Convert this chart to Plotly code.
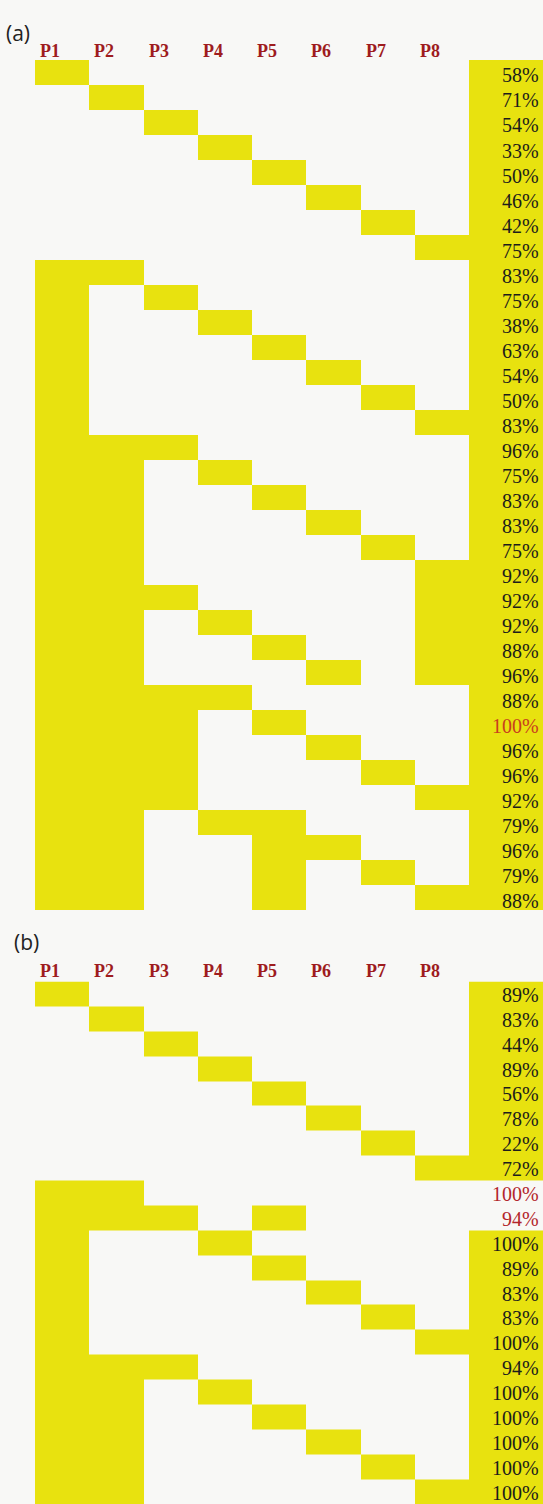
import plotly.graph_objects as go

# ---- data -------------------------------------------------------------
columns = ["P1", "P2", "P3", "P4", "P5", "P6", "P7", "P8"]

# panel (a): members of each combination, whether the summary strip is filled,
# the reported percentage and which percentages are highlighted
a_sets = [
    [1], [2], [3], [4], [5], [6], [7], [8],
    [1, 2], [1, 3], [1, 4], [1, 5], [1, 6], [1, 7], [1, 8],
    [1, 2, 3], [1, 2, 4], [1, 2, 5], [1, 2, 6], [1, 2, 7], [1, 2, 8],
    [1, 2, 3, 8], [1, 2, 4, 8], [1, 2, 5, 8], [1, 2, 6, 8],
    [1, 2, 3, 4], [1, 2, 3, 5], [1, 2, 3, 6], [1, 2, 3, 7], [1, 2, 3, 8],
    [1, 2, 4, 5], [1, 2, 5, 6], [1, 2, 5, 7], [1, 2, 5, 8],
]
a_strip = [1] * 34
a_pct = [58, 71, 54, 33, 50, 46, 42, 75,
         83, 75, 38, 63, 54, 50, 83,
         96, 75, 83, 83, 75, 92,
         92, 92, 88, 96,
         88, 100, 96, 96, 92,
         79, 96, 79, 88]
a_red = [26]

# panel (b)
b_sets = [
    [1], [2], [3], [4], [5], [6], [7], [8],
    [1, 2], [1, 2, 3, 5], [1, 4], [1, 5], [1, 6], [1, 7], [1, 8],
    [1, 2, 3], [1, 2, 4], [1, 2, 5], [1, 2, 6], [1, 2, 7], [1, 2, 8],
]
b_strip = [1] * 8 + [0, 0] + [1] * 11
b_pct = [89, 83, 44, 89, 56, 78, 22, 72,
         100, 94, 100, 89, 83, 83, 100,
         94, 100, 100, 100, 100, 100]
b_red = [8, 9]

# ---- styling ----------------------------------------------------------
W, H = 543, 1504
BG = "#f8f8f6"
YELLOW = "#e8e20f"
DARK_RED = "#9e1c1e"
TEXT = "#1c1c1c"
SERIF = "Liberation Serif, Times New Roman, serif"
COL_W = 54.25          # px per P column
LEFT = 35              # px left of the first column
STRIP_W = 74 / COL_W   # summary strip width in column units

x_edges = list(range(len(columns) + 1)) + [len(columns) + STRIP_W]
x_range = [-LEFT / COL_W, len(columns) + STRIP_W]


def matrix(sets, strip):
    z = []
    for members, s in zip(sets, strip):
        row = [1 if (i + 1) in members else 0 for i in range(len(columns))]
        z.append(row + [s])
    return z


def paper_y(px):
    return 1 - px / H


panels = [
    dict(name="(a)", sets=a_sets, strip=a_strip, pct=a_pct, red=a_red,
         top=60, bottom=910, label_y=33, label_x=4, head_y=51, shift=-3,
         red_col="#c8401e"),
    dict(name="(b)", sets=b_sets, strip=b_strip, pct=b_pct, red=b_red,
         top=981.5, bottom=1504, label_y=942, label_x=12, head_y=971, shift=-1,
         red_col="#b3262c"),
]

fig = go.Figure()
annotations = []

for k, p in enumerate(panels):
    xa = "x" if k == 0 else "x2"
    ya = "y" if k == 0 else "y2"
    n = len(p["sets"])
    fig.add_trace(go.Heatmap(
        z=matrix(p["sets"], p["strip"]),
        x=x_edges,
        y=list(range(n)),
        colorscale=[[0, BG], [1, YELLOW]],
        zmin=0, zmax=1,
        showscale=False,
        hoverinfo="skip",
        xaxis=xa, yaxis=ya,
    ))
    # percentages, right-aligned in the summary strip
    for i, v in enumerate(p["pct"]):
        annotations.append(dict(
            xref=xa, yref=ya, x=x_edges[-1], y=i,
            xanchor="right", yanchor="middle", xshift=-2, yshift=p["shift"],
            text=f"{v}%", showarrow=False,
            font=dict(family=SERIF, size=20,
                      color=p["red_col"] if i in p["red"] else TEXT),
        ))
    # column headers
    for j, c in enumerate(columns):
        annotations.append(dict(
            xref=xa, yref="paper", x=j, y=paper_y(p["head_y"]),
            xanchor="left", yanchor="middle", xshift=3,
            text=f"<b>{c}</b>", showarrow=False,
            font=dict(family=SERIF, size=18, color=DARK_RED),
        ))
    # panel letter
    annotations.append(dict(
        xref="paper", yref="paper", x=p["label_x"] / W, y=paper_y(p["label_y"]),
        xanchor="left", yanchor="middle", text=p["name"], showarrow=False,
        font=dict(family="Open Sans", size=21, color="#222222"),
    ))

axis_common = dict(showgrid=False, zeroline=False, showticklabels=False,
                   ticks="", showline=False, fixedrange=True)

fig.update_layout(
    width=W, height=H,
    margin=dict(l=0, r=0, t=0, b=0),
    paper_bgcolor=BG, plot_bgcolor=BG,
    showlegend=False,
    annotations=annotations,
    xaxis=dict(domain=[0, 1], range=x_range, anchor="y", **axis_common),
    yaxis=dict(domain=[paper_y(panels[0]["bottom"]), paper_y(panels[0]["top"])],
               range=[len(a_sets) - 0.5, -0.5], anchor="x", **axis_common),
    xaxis2=dict(domain=[0, 1], range=x_range, anchor="y2", **axis_common),
    yaxis2=dict(domain=[max(0, paper_y(panels[1]["bottom"])), paper_y(panels[1]["top"])],
                range=[len(b_sets) - 0.5, -0.5], anchor="x2", **axis_common),
)

fig.write_html("out.html")
